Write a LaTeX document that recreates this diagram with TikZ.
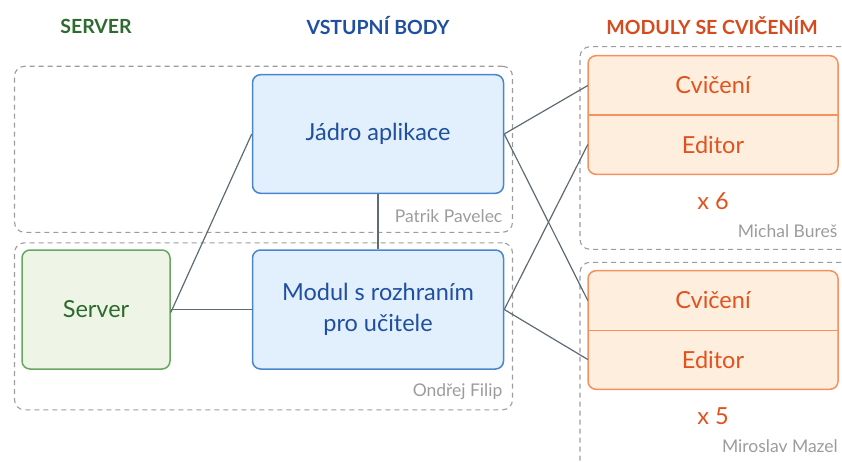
\documentclass[tikz,border=0pt]{standalone}
\usepackage{fontspec}
\setmainfont{Lato}
\definecolor{grp}{HTML}{9C9C9C}
\definecolor{conn}{HTML}{5E6A74}
\definecolor{bfill}{HTML}{E2EFFC}
\definecolor{bdraw}{HTML}{4A86CC}
\definecolor{btext}{HTML}{1F4F9E}
\definecolor{gfill}{HTML}{EEF5E7}
\definecolor{gdraw}{HTML}{67A85E}
\definecolor{gtext}{HTML}{2B6A2B}
\definecolor{ofill}{HTML}{FEEEDD}
\definecolor{odraw}{HTML}{F5905F}
\definecolor{otext}{HTML}{E0521E}
\definecolor{hgreen}{HTML}{2E6B2F}
\definecolor{hblue}{HTML}{1F4FA0}
\definecolor{horange}{HTML}{D64A1E}
\begin{document}
\begin{tikzpicture}[x=1pt,y=-1pt,
  grpbox/.style={draw=grp,dashed,dash pattern=on 5pt off 4pt,line width=1.1pt,rounded corners=10pt},
  blubox/.style={draw=bdraw,fill=bfill,line width=1.5pt,rounded corners=8pt,text=btext,font=\fontsize{23.5}{31}\selectfont,align=center,inner sep=0pt},
  grnbox/.style={draw=gdraw,fill=gfill,line width=1.5pt,rounded corners=8pt,text=gtext,font=\fontsize{23.5}{27}\selectfont,inner sep=0pt},
  orgbox/.style={draw=odraw,fill=ofill,line width=1.5pt,rounded corners=8pt,inner sep=0pt},
  orgtxt/.style={text=otext,font=\fontsize{23.5}{27}\selectfont,inner sep=0pt,minimum width=250pt,minimum height=59pt},
  heading/.style={font=\fontsize{19.5}{23}\selectfont\bfseries,inner sep=0pt},
  author/.style={text=grp,font=\fontsize{17.5}{20}\selectfont,inner sep=0pt,anchor=east},
  count/.style={text=otext,font=\fontsize{23.5}{27}\selectfont,inner sep=0pt},
  link/.style={draw=conn,line width=1.2pt}]
\useasboundingbox (0,0) rectangle (842,462);
\clip (0,0) rectangle (842,462);
% headings
\node[heading,text=hgreen] (hs) at (96,26) {SERVER};
\node[heading,text=hblue] (hv) at (378,26) {VSTUPNÍ BODY};
\node[heading,text=horange] (hm) at (712,26) {MODULY SE CVIČENÍM};
% group boxes
\node[grpbox,minimum width=498pt,minimum height=166pt] (g1) at (263.5,149.3) {};
\node[grpbox,minimum width=498pt,minimum height=167pt] (g2) at (263.5,326.3) {};
\node[grpbox,minimum width=280pt,minimum height=202.6pt] (g3) at (720,148) {};
\node[grpbox,minimum width=280pt,minimum height=260pt] (g4) at (720,392.3) {};
\node[author] (a1) at (502.5,216) {Patrik Pavelec};
\node[author] (a2) at (502.5,391.5) {Ondřej Filip};
\node[author] (a3) at (837.5,231) {Michal Bureš};
\node[author] (a4) at (838,446) {Miroslav Mazel};
% main boxes
\node[blubox,minimum width=251pt,minimum height=118.6pt] (jad) at (378,134) {Jádro aplikace};
\node[blubox,minimum width=251pt,minimum height=119pt] (mod) at (378,309.5) {Modul s rozhraním\\pro učitele};
\node[grnbox,minimum width=148pt,minimum height=119pt] (srv) at (96,309.5) {Server};
% module boxes
\node[orgbox,minimum width=250pt,minimum height=118.6pt] (m1) at (713,115) {};
\node[orgtxt] (cv1) at (713,85.5) {Cvičení};
\node[orgtxt] (ed1) at (713,144.5) {Editor};
\draw[draw=odraw,line width=1.4pt] (cv1.south west) -- (cv1.south east);
\node[count] (x6) at (713,201) {x 6};
\node[orgbox,minimum width=250pt,minimum height=118.6pt] (m2) at (713,330) {};
\node[orgtxt] (cv2) at (713,300.5) {Cvičení};
\node[orgtxt] (ed2) at (713,359.5) {Editor};
\draw[draw=odraw,line width=1.4pt] (cv2.south west) -- (cv2.south east);
\node[count] (x5) at (713,416) {x 5};
% connectors
\draw[link] (jad.south) -- (mod.north);
\draw[link] (srv.east) -- (mod.west);
\draw[link] ([yshift=-3pt]srv.east) -- (jad.west);
\draw[link] (jad.east) -- (cv1.west);
\draw[link] (jad.east) -- (cv2.west);
\draw[link] (mod.east) -- (ed1.west);
\draw[link] (mod.east) -- (ed2.west);
\end{tikzpicture}
\end{document}
